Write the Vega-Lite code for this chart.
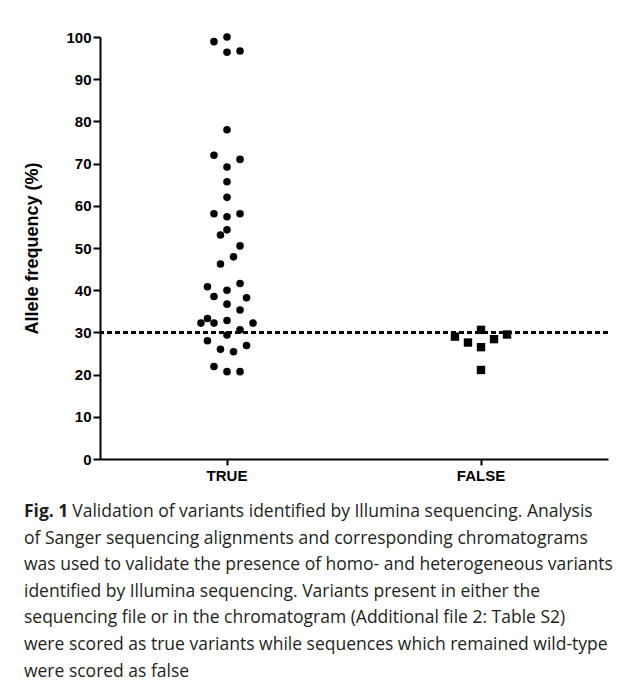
{
  "$schema": "https://vega.github.io/schema/vega-lite/v6.json",
  "autosize": {"type": "none"},
  "width": 508,
  "height": 422,
  "padding": {"left": 100, "top": 37, "right": 14, "bottom": 225},
  "background": "white",
  "config": {
    "view": {"stroke": null},
    "font": "Liberation Sans"
  },
  "title": {
    "text": "Fig. 1",
    "subtitle": [
      "\u200b\u2002\u2002\u2002\u2002\u2002 Validation of variants identified by Illumina sequencing. Analysis",
      "of Sanger sequencing alignments and corresponding chromatograms",
      "was used to validate the presence of homo- and heterogeneous variants",
      "identified by Illumina sequencing. Variants present in either the",
      "sequencing file or in the chromatogram (Additional file 2: Table S2)",
      "were scored as true variants while sequences which remained wild-type",
      "were scored as false"
    ],
    "orient": "bottom",
    "anchor": "start",
    "frame": "bounds",
    "dx": 0,
    "offset": 20,
    "font": "Open Sans",
    "fontSize": 17.5,
    "fontWeight": "bold",
    "color": "#231f20",
    "subtitleFont": "Open Sans",
    "subtitleFontSize": 17.5,
    "subtitleFontWeight": "normal",
    "subtitleColor": "#231f20",
    "subtitleLineHeight": 26.6,
    "subtitlePadding": -17.5
  },
  "data": {
    "values": [
      {"group": "TRUE", "value": 100.0, "slot": 0},
      {"group": "TRUE", "value": 98.9, "slot": -2},
      {"group": "TRUE", "value": 96.7, "slot": 2},
      {"group": "TRUE", "value": 96.4, "slot": 0},
      {"group": "TRUE", "value": 78.0, "slot": 0},
      {"group": "TRUE", "value": 72.0, "slot": -2},
      {"group": "TRUE", "value": 71.0, "slot": 2},
      {"group": "TRUE", "value": 69.2, "slot": 0},
      {"group": "TRUE", "value": 65.7, "slot": 0},
      {"group": "TRUE", "value": 62.0, "slot": 0},
      {"group": "TRUE", "value": 58.1, "slot": -2},
      {"group": "TRUE", "value": 57.4, "slot": 0},
      {"group": "TRUE", "value": 58.1, "slot": 2},
      {"group": "TRUE", "value": 54.3, "slot": 0},
      {"group": "TRUE", "value": 53.1, "slot": -1},
      {"group": "TRUE", "value": 50.5, "slot": 2},
      {"group": "TRUE", "value": 47.9, "slot": 1},
      {"group": "TRUE", "value": 46.2, "slot": -1},
      {"group": "TRUE", "value": 40.8, "slot": -3},
      {"group": "TRUE", "value": 40.0, "slot": 0},
      {"group": "TRUE", "value": 41.6, "slot": 2},
      {"group": "TRUE", "value": 38.5, "slot": -2},
      {"group": "TRUE", "value": 38.2, "slot": 3},
      {"group": "TRUE", "value": 36.7, "slot": 0},
      {"group": "TRUE", "value": 35.3, "slot": 2},
      {"group": "TRUE", "value": 33.3, "slot": -3},
      {"group": "TRUE", "value": 32.2, "slot": -4},
      {"group": "TRUE", "value": 32.2, "slot": -2},
      {"group": "TRUE", "value": 32.8, "slot": 0},
      {"group": "TRUE", "value": 32.2, "slot": 4},
      {"group": "TRUE", "value": 30.6, "slot": 2},
      {"group": "TRUE", "value": 29.4, "slot": 0},
      {"group": "TRUE", "value": 28.0, "slot": -3},
      {"group": "TRUE", "value": 26.9, "slot": 3},
      {"group": "TRUE", "value": 26.0, "slot": -1},
      {"group": "TRUE", "value": 25.4, "slot": 1},
      {"group": "TRUE", "value": 21.9, "slot": -2},
      {"group": "TRUE", "value": 20.7, "slot": 0},
      {"group": "TRUE", "value": 20.7, "slot": 2},
      {"group": "FALSE", "value": 29.0, "slot": -4},
      {"group": "FALSE", "value": 27.6, "slot": -2},
      {"group": "FALSE", "value": 30.6, "slot": 0},
      {"group": "FALSE", "value": 26.5, "slot": 0},
      {"group": "FALSE", "value": 28.4, "slot": 2},
      {"group": "FALSE", "value": 29.5, "slot": 4},
      {"group": "FALSE", "value": 21.1, "slot": 0}
    ]
  },
  "layer": [
    {
      "mark": {"type": "rule", "strokeDash": [5, 3], "strokeWidth": 2, "color": "black"},
      "encoding": {"y": {"datum": 30, "type": "quantitative"}}
    },
    {
      "mark": {"type": "point", "filled": true, "opacity": 1, "color": "black"},
      "encoding": {
        "x": {
          "field": "group",
          "type": "nominal",
          "sort": ["TRUE", "FALSE"],
          "scale": {"type": "band", "domain": ["TRUE", "FALSE"], "paddingInner": 0, "paddingOuter": 0},
          "axis": {
            "title": null,
            "labelAngle": 0,
            "labelFont": "Liberation Sans",
            "labelFontSize": 15,
            "labelFontWeight": "bold",
            "labelColor": "black",
            "labelPadding": 3,
            "domainColor": "black",
            "domainWidth": 2,
            "tickColor": "black",
            "tickWidth": 2,
            "tickSize": 6,
            "grid": false
          }
        },
        "xOffset": {
          "field": "slot",
          "type": "quantitative",
          "scale": {"domain": [-19.5, 19.5]}
        },
        "y": {
          "field": "value",
          "type": "quantitative",
          "scale": {"domain": [0, 100], "nice": false},
          "axis": {
            "title": "Allele frequency (%)",
            "titleFont": "Liberation Sans",
            "titleFontSize": 18,
            "titleFontWeight": "bold",
            "titleColor": "black",
            "titlePadding": 24,
            "values": [0, 10, 20, 30, 40, 50, 60, 70, 80, 90, 100],
            "labelFont": "Liberation Sans",
            "labelFontSize": 15,
            "labelFontWeight": "bold",
            "labelColor": "black",
            "labelPadding": 2,
            "domainColor": "black",
            "domainWidth": 2,
            "tickColor": "black",
            "tickWidth": 2,
            "tickSize": 7,
            "grid": false
          }
        },
        "shape": {
          "field": "group",
          "type": "nominal",
          "scale": {"domain": ["TRUE", "FALSE"], "range": ["circle", "square"]},
          "legend": null
        },
        "size": {
          "field": "group",
          "type": "nominal",
          "scale": {"domain": ["TRUE", "FALSE"], "range": [57, 70]},
          "legend": null
        }
      }
    }
  ]
}
